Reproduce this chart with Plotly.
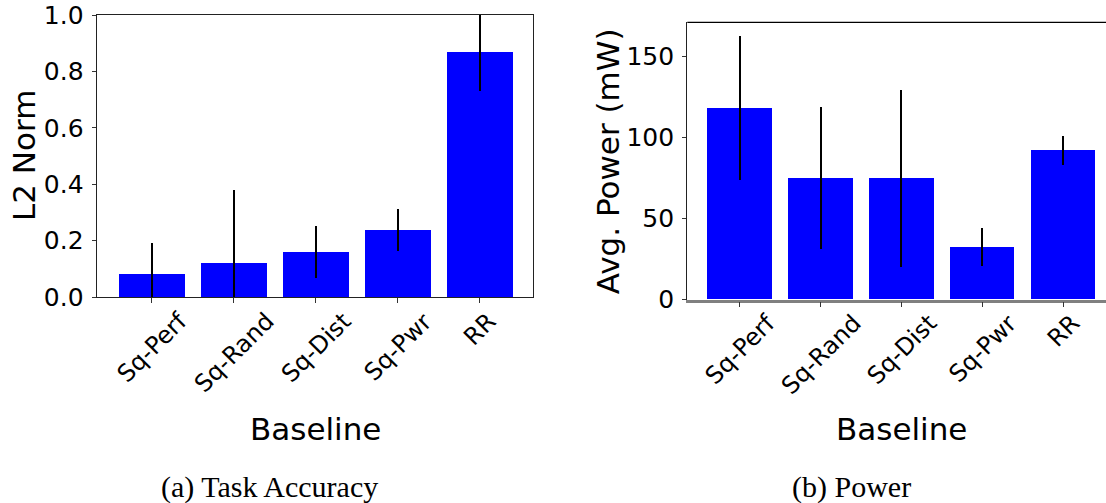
import plotly.graph_objects as go

categories = ["Sq-Perf", "Sq-Rand", "Sq-Dist", "Sq-Pwr", "RR"]
l2_mean = [0.082, 0.12, 0.16, 0.238, 0.869]
l2_err = [0.11, 0.26, 0.092, 0.075, 0.14]
pwr_mean = [118, 74.7, 74.7, 32.2, 92.0]
pwr_err = [44.5, 43.7, 54.3, 11.7, 9.0]

W, H = 1106, 503
def px(x):
    return x / W
def py(y):
    return 1 - y / H

xs = list(range(len(categories)))

fig = go.Figure()
fig.add_trace(go.Bar(x=xs, y=l2_mean, width=0.8, marker_color="#0000ff",
                     marker_line_width=0,
                     error_y=dict(type="data", array=l2_err, color="black", thickness=2, width=0),
                     xaxis="x", yaxis="y", showlegend=False))
fig.add_trace(go.Bar(x=xs, y=pwr_mean, width=0.8, marker_color="#0000ff",
                     marker_line_width=0,
                     error_y=dict(type="data", array=pwr_err, color="black", thickness=2, width=0),
                     xaxis="x2", yaxis="y2", showlegend=False))

tickfont = dict(family="DejaVu Sans", size=25, color="black")
catfont = dict(family="DejaVu Sans", size=24, color="black")

common_x = dict(tickmode="array", tickvals=xs, showticklabels=False,
                ticks="outside", ticklen=5, tickwidth=1.2, tickcolor="#333",
                showgrid=False, zeroline=False, automargin=False, fixedrange=True)
common_y = dict(tickfont=tickfont, ticks="outside", ticklen=4, tickwidth=1.2, tickcolor="#333",
                ticklabelstandoff=3,
                showgrid=False, zeroline=False, automargin=False)

fig.update_layout(
    width=W, height=H, margin=dict(l=0, r=0, t=0, b=0),
    plot_bgcolor="white", paper_bgcolor="white", bargap=0,
    xaxis=dict(domain=[px(96.7), px(533.3)], anchor="y", range=[-0.67, 4.65],
               showline=True, linecolor="#222", linewidth=1.3, mirror=True, **common_x),
    yaxis=dict(domain=[py(297), py(15)], anchor="x", range=[0, 1.0],
               tickvals=[0, 0.2, 0.4, 0.6, 0.8, 1.0], tickformat=".1f",
               showline=True, linecolor="#222", linewidth=1.3, mirror=True, **common_y),
    xaxis2=dict(domain=[px(687.3), 1.0], anchor="y2", range=[-0.648, 4.528],
                showline=True, linecolor="#808080", linewidth=2.5, mirror=False, **common_x),
    yaxis2=dict(domain=[py(299.7), py(22.3)], anchor="x2", range=[0, 170.8],
                tickvals=[0, 50, 100, 150],
                showline=True, linecolor="#222", linewidth=1.3, mirror=False, **common_y),
)

# top border of right panel (no right spine visible)
fig.add_shape(type="line", xref="x2 domain", yref="y2 domain", x0=0, x1=1, y0=1, y1=1,
              line=dict(color="black", width=1.3))

# rotated category labels, centred under each tick (matplotlib rotation=45, ha=center)
for xa, top in (("x", 306), ("x2", 308)):
    for i, c in enumerate(categories):
        fig.add_annotation(xref=xa, yref="paper", x=i, y=py(top), text=c,
                           textangle=-45, xanchor="center", yanchor="top",
                           showarrow=False, font=catfont, borderpad=0)

titlefont = dict(family="DejaVu Sans", size=31, color="black")
capfont = dict(family="Liberation Serif", size=30, color="black")
annos = [
    dict(text="L2 Norm", x=px(24), y=py(156), textangle=-90, font=titlefont),
    dict(text="Avg. Power (mW)", x=px(607.5), y=py(161.7), textangle=-90, font=titlefont),
    dict(text="Baseline", x=px(315.5), y=py(429), font=titlefont),
    dict(text="Baseline", x=px(901.3), y=py(429), font=titlefont),
    dict(text="(a) Task Accuracy", x=px(269), y=py(487), font=capfont),
    dict(text="(b) Power", x=px(851.7), y=py(487), font=capfont),
]
for a in annos:
    fig.add_annotation(xref="paper", yref="paper", showarrow=False,
                       xanchor="center", yanchor="middle", borderpad=0, **a)

fig.write_html("out.html")
